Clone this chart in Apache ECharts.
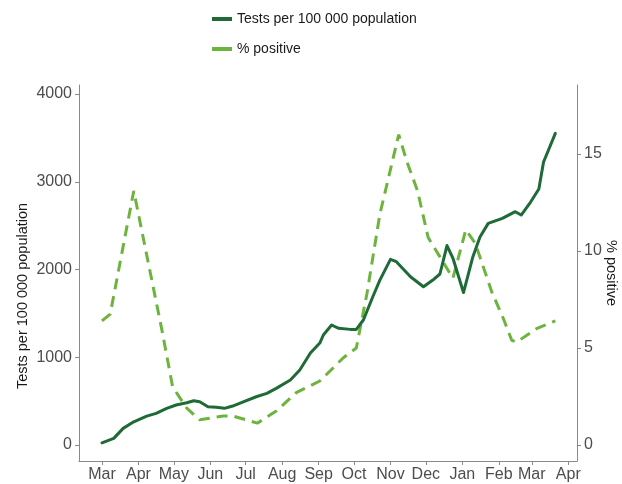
<!DOCTYPE html>
<html>
<head>
<meta charset="utf-8">
<script src="https://cdn.jsdelivr.net/npm/echarts@6/dist/echarts.min.js"></script>
<style>
  html, body { margin: 0; padding: 0; background: #ffffff; }
  #chart { width: 622px; height: 484px; }
</style>
</head>
<body>
<div id="chart"></div>
<script>
// Weekly COVID-19 testing: tests per 100 000 population and share of tests positive
const testDates = [
  '2020-03-01','2020-03-11','2020-03-19','2020-03-28','2020-04-08','2020-04-16','2020-04-25',
  '2020-05-03','2020-05-12','2020-05-18','2020-05-23','2020-05-30','2020-06-06','2020-06-13',
  '2020-06-20','2020-06-29','2020-07-10','2020-07-19','2020-07-27','2020-08-08','2020-08-16',
  '2020-08-25','2020-09-02','2020-09-05','2020-09-12','2020-09-18','2020-09-28','2020-10-03',
  '2020-10-09','2020-10-17','2020-10-23','2020-11-01','2020-11-06','2020-11-18','2020-11-29',
  '2020-12-07','2020-12-13','2020-12-19','2020-12-24','2021-01-02','2021-01-10','2021-01-16',
  '2021-01-23','2021-02-04','2021-02-15','2021-02-20','2021-02-28','2021-03-07','2021-03-11',
  '2021-03-21'
];
const testsPer100k = [
  25, 76, 190, 265, 330, 361, 418,
  456, 482, 505, 493, 436, 430, 418,
  444, 493, 550, 589, 646, 741, 855,
  1048, 1162, 1254, 1368, 1330, 1318, 1318,
  1425, 1690, 1880, 2116, 2089, 1918, 1804,
  1880, 1949, 2273, 2131, 1738, 2146, 2370,
  2526, 2583, 2659, 2621, 2769, 2917, 3225,
  3552
];

const positiveDates = [
  '2020-03-01','2020-03-08','2020-03-28','2020-04-21','2020-04-30','2020-05-12','2020-05-23',
  '2020-06-12','2020-06-20','2020-07-11','2020-07-27','2020-08-13','2020-09-02','2020-09-22',
  '2020-10-03','2020-10-12','2020-10-23','2020-11-08','2020-11-15','2020-11-24','2020-12-03',
  '2020-12-13','2020-12-24','2021-01-04','2021-01-12','2021-01-26','2021-02-05','2021-02-12',
  '2021-02-16','2021-03-05','2021-03-21'
];
const percentPositive = [
  6.4, 6.75, 13.1, 5.9, 3.0, 1.9, 1.3,
  1.5, 1.5, 1.13, 1.75, 2.7, 3.3, 4.5,
  5.0, 7.8, 11.9, 16.0, 14.6, 13.1, 10.7,
  9.7, 8.6, 11.1, 10.4, 7.9, 6.5, 5.4,
  5.3, 6.0, 6.4
];

const monthTickDates = [
  '2020-03-01','2020-04-01','2020-05-01','2020-06-01','2020-07-01','2020-08-01','2020-09-01',
  '2020-10-01','2020-11-01','2020-12-01','2021-01-01','2021-02-01','2021-03-01','2021-04-01'
];
const monthTickLabels = ['Mar','Apr','May','Jun','Jul','Aug','Sep','Oct','Nov','Dec','Jan','Feb','Mar','Apr'];
const testsTicks = [0, 1000, 2000, 3000, 4000];
const positiveTicks = [0, 5, 10, 15];

// Dates are placed on a day-count axis starting at 1 March 2020
const DAY = 86400000;
const toTime = s => {
  const [y, m, d] = s.split('-').map(Number);
  return Date.UTC(y, m - 1, d);
};
const origin = toTime('2020-03-01');
const toDay = s => Math.round((toTime(s) - origin) / DAY);
const monthTickDays = monthTickDates.map(toDay);
const pair = (dates, vals) => dates.map((d, i) => [toDay(d), vals[i]]);

const axisGrey = '#8a8a8a';
const labelGrey = '#4d4d4d';
const font = 'Liberation Sans, Arial, sans-serif';

const chart = echarts.init(document.getElementById('chart'), null, { renderer: 'canvas' });
chart.setOption({
  backgroundColor: '#ffffff',
  animation: false,
  textStyle: { fontFamily: font },
  legend: {
    orient: 'vertical',
    left: 207,
    top: 7,
    itemGap: 16,
    itemWidth: 20,
    itemHeight: 4,
    itemTextGap: 10,
    icon: 'rect',
    textStyle: { fontSize: 14, color: '#1a1a1a', fontFamily: font },
    data: ['Tests per 100 000 population', '% positive']
  },
  grid: { left: 79, right: 45, top: 85, bottom: 23, outerBoundsMode: 'none' },
  xAxis: {
    type: 'value',
    min: -19.5,
    max: 403.4,
    axisLine: { show: true, onZero: false, lineStyle: { color: axisGrey, width: 1 } },
    axisTick: { show: true, length: 4, lineStyle: { color: axisGrey }, customValues: monthTickDays },
    axisLabel: {
      customValues: monthTickDays,
      margin: 6,
      fontSize: 16,
      color: labelGrey,
      fontFamily: font,
      formatter: v => {
        const i = monthTickDays.indexOf(v);
        return i >= 0 ? monthTickLabels[i] : '';
      }
    },
    splitLine: { show: false }
  },
  yAxis: [
    {
      type: 'value',
      position: 'left',
      min: -182,
      max: 4103,
      name: 'Tests per 100 000 population',
      nameLocation: 'middle',
      nameGap: 49,
      nameMoveOverlap: false,
      nameTextStyle: { fontSize: 14.5, color: '#1a1a1a', fontFamily: font, padding: [0, 46, 0, 0] },
      axisLine: { show: true, onZero: false, lineStyle: { color: axisGrey, width: 1 } },
      axisTick: { show: true, length: 4, lineStyle: { color: axisGrey }, customValues: testsTicks },
      axisLabel: {
        customValues: testsTicks, margin: 7, fontSize: 16, color: labelGrey, fontFamily: font,
        formatter: v => String(v)
      },
      splitLine: { show: false }
    },
    {
      type: 'value',
      position: 'right',
      min: -0.823,
      max: 18.56,
      name: '% positive',
      nameLocation: 'middle',
      nameRotate: -90,
      nameGap: 26,
      nameMoveOverlap: false,
      nameTextStyle: { fontSize: 14.5, color: '#1a1a1a', fontFamily: font },
      axisLine: { show: true, onZero: false, lineStyle: { color: axisGrey, width: 1 } },
      axisTick: { show: true, length: 4, lineStyle: { color: axisGrey }, customValues: positiveTicks },
      axisLabel: {
        customValues: positiveTicks, margin: 7, fontSize: 16, color: labelGrey, fontFamily: font,
        formatter: v => String(v)
      },
      splitLine: { show: false }
    }
  ],
  series: [
    {
      name: 'Tests per 100 000 population',
      type: 'line',
      yAxisIndex: 0,
      data: pair(testDates, testsPer100k),
      showSymbol: false,
      color: '#1e6b37',
      lineStyle: { width: 3, color: '#1e6b37', join: 'round', cap: 'round' },
      z: 3
    },
    {
      name: '% positive',
      type: 'line',
      yAxisIndex: 1,
      data: pair(positiveDates, percentPositive),
      showSymbol: false,
      color: '#6db43e',
      lineStyle: { width: 3, color: '#6db43e', type: [11, 7] },
      z: 2
    }
  ]
});
</script>
</body>
</html>
